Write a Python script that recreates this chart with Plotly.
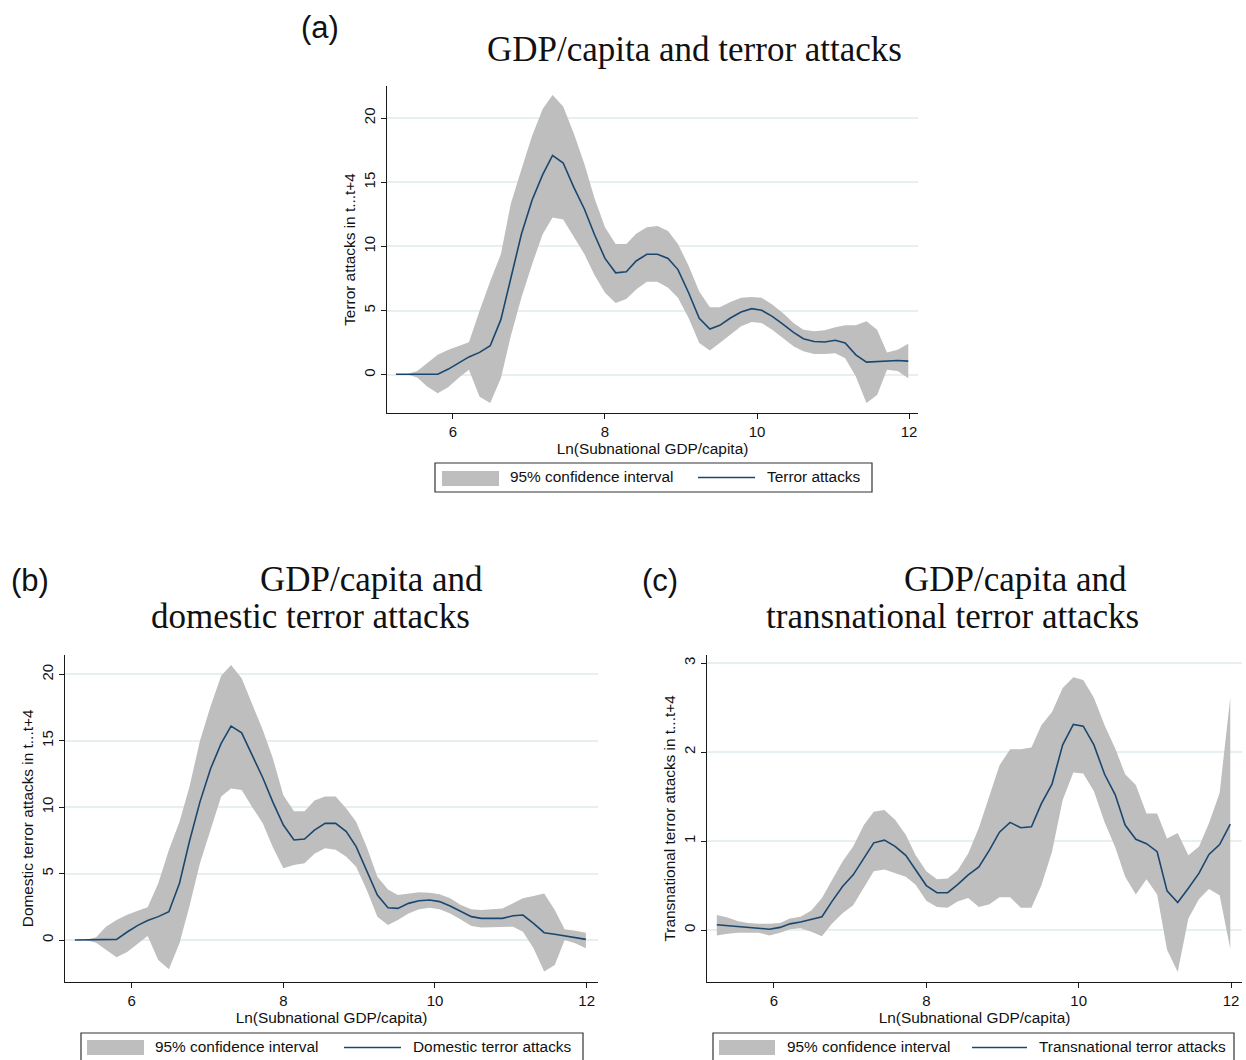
import plotly.graph_objects as go

# ---------------- data ----------------
X = [5.25, 5.39, 5.53, 5.66, 5.80, 5.94, 6.08, 6.21, 6.35, 6.49,
     6.63, 6.76, 6.90, 7.04, 7.18, 7.31, 7.45, 7.59, 7.73, 7.86,
     8.00, 8.14, 8.28, 8.41, 8.55, 8.69, 8.83, 8.96, 9.10, 9.24,
     9.38, 9.51, 9.65, 9.79, 9.93, 10.06, 10.20, 10.34, 10.48, 10.61,
     10.75, 10.89, 11.03, 11.16, 11.30, 11.44, 11.58, 11.71, 11.85, 11.99]

# (a) all terror attacks
A_MEAN = [0.05, 0.05, 0.05, 0.05, 0.05, 0.45, 0.95, 1.4, 1.75, 2.27,
          4.3, 7.56, 10.95, 13.6, 15.6, 17.1, 16.5, 14.6, 12.9, 10.95,
          9.07, 7.95, 8.03, 8.87, 9.39, 9.4, 9.07, 8.2, 6.4, 4.4,
          3.57, 3.86, 4.43, 4.9, 5.16, 5.03, 4.56, 3.96, 3.31, 2.82,
          2.6, 2.56, 2.69, 2.48, 1.56, 0.99, 1.04, 1.07, 1.12, 1.07]
A_HI = [0.05, 0.05, 0.3, 0.9, 1.56, 1.95, 2.25, 2.55, 5.0, 7.3,
        9.4, 13.3, 16.0, 18.6, 20.7, 21.8, 20.9, 18.8, 16.4, 13.8,
        11.5, 10.2, 10.2, 11.0, 11.5, 11.6, 11.2, 10.2, 8.5, 6.5,
        5.27, 5.27, 5.68, 6.0, 6.07, 6.0, 5.48, 4.82, 4.04, 3.52,
        3.39, 3.47, 3.7, 3.86, 3.86, 4.17, 3.52, 1.75, 1.96, 2.43]
A_LO = [0.05, 0.05, -0.2, -0.9, -1.43, -0.95, -0.2, 0.4, -1.7, -2.2,
        -0.26, 3.0, 6.0, 8.6, 10.95, 12.25, 12.1, 10.7, 9.4, 7.8,
        6.4, 5.6, 5.9, 6.65, 7.25, 7.25, 6.78, 6.0, 4.43, 2.48,
        1.9, 2.48, 3.13, 3.78, 4.12, 4.04, 3.52, 2.87, 2.22, 1.83,
        1.62, 1.62, 1.69, 1.3, -0.13, -2.2, -1.56, 0.39, 0.31, -0.26]

# (b) domestic terror attacks
B_MEAN = [0.0, 0.0, 0.02, 0.03, 0.05, 0.6, 1.1, 1.46, 1.76, 2.13,
          4.27, 7.4, 10.4, 12.9, 14.8, 16.1, 15.6, 13.9, 12.2, 10.4,
          8.66, 7.53, 7.6, 8.28, 8.78, 8.78, 8.16, 7.03, 5.27, 3.39,
          2.43, 2.38, 2.76, 2.96, 3.01, 2.89, 2.56, 2.13, 1.76, 1.63,
          1.63, 1.63, 1.83, 1.88, 1.25, 0.55, 0.43, 0.3, 0.2, 0.05]
B_HI = [0.0, 0.0, 0.2, 1.0, 1.5, 1.9, 2.2, 2.46, 4.27, 6.78,
        8.9, 11.5, 15.0, 17.6, 19.9, 20.7, 19.7, 17.8, 15.8, 13.7,
        10.9, 9.7, 9.7, 10.5, 10.8, 10.8, 9.9, 8.9, 7.0, 4.77,
        3.8, 3.39, 3.51, 3.59, 3.56, 3.44, 3.14, 2.63, 2.31, 2.26,
        2.31, 2.38, 2.76, 3.14, 3.31, 3.51, 2.26, 0.8, 0.7, 0.55]
B_LO = [0.0, 0.0, -0.2, -0.75, -1.3, -0.9, -0.3, 0.3, -1.5, -2.2,
        -0.25, 2.5, 5.77, 8.28, 10.8, 11.4, 11.3, 10.0, 8.78, 7.0,
        5.4, 5.65, 5.77, 6.5, 6.9, 6.8, 6.27, 5.52, 3.76, 1.76,
        1.13, 1.5, 2.0, 2.31, 2.43, 2.31, 2.0, 1.55, 1.05, 0.95,
        0.95, 1.0, 1.0, 0.63, -0.63, -2.38, -1.88, 0.0, -0.25, -0.63]

# (c) transnational terror attacks
C_MEAN = [0.06, 0.05, 0.04, 0.03, 0.02, 0.01, 0.03, 0.07, 0.09, 0.12,
          0.15, 0.32, 0.49, 0.62, 0.81, 0.98, 1.01, 0.94, 0.84, 0.67,
          0.5, 0.42, 0.42, 0.51, 0.62, 0.71, 0.9, 1.1, 1.21, 1.15,
          1.16, 1.42, 1.64, 2.08, 2.31, 2.29, 2.08, 1.75, 1.52, 1.18,
          1.02, 0.97, 0.88, 0.44, 0.31, 0.47, 0.64, 0.85, 0.96, 1.19]
C_HI = [0.17, 0.14, 0.1, 0.08, 0.07, 0.07, 0.08, 0.13, 0.15, 0.22,
        0.36, 0.56, 0.77, 0.94, 1.18, 1.33, 1.35, 1.24, 1.07, 0.84,
        0.66, 0.57, 0.58, 0.67, 0.86, 1.15, 1.5, 1.85, 2.03, 2.03,
        2.05, 2.3, 2.45, 2.72, 2.84, 2.81, 2.61, 2.3, 2.04, 1.75,
        1.63, 1.31, 1.31, 1.03, 1.09, 0.84, 0.94, 1.2, 1.54, 2.61]
C_LO = [-0.06, -0.04, -0.03, -0.03, -0.03, -0.06, -0.03, 0.01, 0.02, -0.02,
        -0.07, 0.07, 0.19, 0.28, 0.47, 0.66, 0.68, 0.64, 0.6, 0.51,
        0.33, 0.26, 0.25, 0.32, 0.36, 0.26, 0.29, 0.37, 0.37, 0.25,
        0.25, 0.5, 0.88, 1.46, 1.77, 1.76, 1.56, 1.21, 0.93, 0.6,
        0.4, 0.57, 0.4, -0.22, -0.47, 0.13, 0.35, 0.46, 0.39, -0.21]

X_TICKS = [6, 8, 10, 12]
AB_Y_TICKS = [0, 5, 10, 15, 20]
C_Y_TICKS = [0, 1, 2, 3]

X_TITLE = "Ln(Subnational GDP/capita)"
Y_TITLES = ["Terror attacks in t...t+4",
            "Domestic terror attacks in t...t+4",
            "Transnational terror attacks in t...t+4"]
SERIES_NAMES = ["Terror attacks", "Domestic terror attacks",
                "Transnational terror attacks"]
CI_NAME = "95% confidence interval"

# ---------------- styling ----------------
W, H = 1246, 1060
NAVY = "#1a476f"
BAND = "#bebebe"
GRID = "#e6eff1"
AXIS = "#1a1a1a"
SANS = "Liberation Sans, Arial, sans-serif"
SERIF = "Liberation Serif, Times New Roman, serif"


def fx(p):
    return p / W


def fy(p):
    return 1 - p / H


fig = go.Figure()

panels = [
    dict(x=X, m=A_MEAN, lo=A_LO, hi=A_HI, xa="x", ya="y"),
    dict(x=X, m=B_MEAN, lo=B_LO, hi=B_HI, xa="x2", ya="y2"),
    dict(x=X, m=C_MEAN, lo=C_LO, hi=C_HI, xa="x3", ya="y3"),
]
for i, p in enumerate(panels):
    fig.add_trace(go.Scatter(x=p["x"], y=p["lo"], mode="lines",
                             line=dict(width=0, color=BAND),
                             xaxis=p["xa"], yaxis=p["ya"], showlegend=False,
                             hoverinfo="skip"))
    fig.add_trace(go.Scatter(x=p["x"], y=p["hi"], mode="lines",
                             line=dict(width=0, color=BAND), fill="tonexty",
                             fillcolor=BAND, name=CI_NAME,
                             xaxis=p["xa"], yaxis=p["ya"], showlegend=False))
    fig.add_trace(go.Scatter(x=p["x"], y=p["m"], mode="lines",
                             line=dict(width=1.6, color=NAVY),
                             name=SERIES_NAMES[i],
                             xaxis=p["xa"], yaxis=p["ya"], showlegend=False))

TXT = "#111"
common_x = dict(showline=True, linecolor=AXIS, linewidth=1.2, ticks="outside",
                ticklen=5, tickwidth=1.2, tickcolor=AXIS, showgrid=False,
                zeroline=False, tickvals=X_TICKS,
                tickfont=dict(family=SANS, size=15, color=TXT),
                title=dict(text=X_TITLE, font=dict(family=SANS, size=15.4, color=TXT),
                           standoff=0))
common_y = dict(showline=True, linecolor=AXIS, linewidth=1.2, ticks="outside",
                ticklen=5, tickwidth=1.2, tickcolor=AXIS, showgrid=True,
                gridcolor=GRID, gridwidth=1.5, zeroline=False, tickangle=-90,
                tickfont=dict(family=SANS, size=15, color=TXT))


def ytitle(t):
    return dict(text=t, font=dict(family=SANS, size=15.4, color=TXT), standoff=1)


fig.update_layout(
    width=W, height=H, autosize=False,
    margin=dict(l=0, r=0, t=0, b=0),
    paper_bgcolor="white", plot_bgcolor="white",
    showlegend=False,
    xaxis=dict(common_x, domain=[fx(387), fx(918)], range=[5.132, 12.118], anchor="y"),
    yaxis=dict(common_y, domain=[fy(413), fy(86)], range=[-2.97, 22.5], anchor="x",
               tickvals=AB_Y_TICKS, title=ytitle(Y_TITLES[0])),
    xaxis2=dict(common_x, domain=[fx(65), fx(598)], range=[5.12, 12.15], anchor="y2"),
    yaxis2=dict(common_y, domain=[fy(981.7), fy(655)], range=[-3.14, 21.46], anchor="x2",
                tickvals=AB_Y_TICKS, title=ytitle(Y_TITLES[1])),
    xaxis3=dict(common_x, domain=[fx(707.3), fx(1241.7)], range=[5.125, 12.14], anchor="y3"),
    yaxis3=dict(common_y, domain=[fy(981.7), fy(655)], range=[-0.58, 3.09], anchor="x3",
                tickvals=C_Y_TICKS, title=ytitle(Y_TITLES[2])),
)

# ---------------- titles and panel labels ----------------
anns = []


def ann(text, x, y, size, family, xanchor="center"):
    anns.append(dict(text=text, x=fx(x), y=fy(y), xref="paper", yref="paper",
                     xanchor=xanchor, yanchor="middle", showarrow=False,
                     font=dict(family=family, size=size, color=TXT)))


ann("(a)", 299, 28, 31, SANS, "left")
ann("(b)", 9, 580, 31, SANS, "left")
ann("(c)", 640, 580, 31, SANS, "left")
ann("GDP/capita and terror attacks", 694, 49, 35, SERIF)
ann("GDP/capita and", 371, 579, 35, SERIF)
ann("domestic terror attacks", 310, 616, 35, SERIF)
ann("GDP/capita and", 1015, 579, 35, SERIF)
ann("transnational terror attacks", 952, 616, 35, SERIF)

# ---------------- legends (drawn as boxes with text) ----------------
shapes = []
legends = [
    dict(box=(435, 463, 872, 492), sw=(442, 471, 499, 486), ln=(698, 755),
         t1=508, t2=765, name=SERIES_NAMES[0]),
    dict(box=(81, 1033, 583, 1062), sw=(87, 1040, 144, 1055), ln=(344, 401),
         t1=153, t2=411, name=SERIES_NAMES[1]),
    dict(box=(713, 1033, 1234, 1062), sw=(719, 1040, 775, 1055), ln=(972, 1027),
         t1=785, t2=1037, name=SERIES_NAMES[2]),
]
for lg in legends:
    x0, y0, x1, y1 = lg["box"]
    ymid = (y0 + y1) / 2
    shapes.append(dict(type="rect", xref="paper", yref="paper",
                       x0=fx(x0), x1=fx(x1), y0=fy(y1), y1=fy(y0),
                       line=dict(color="#333", width=1.2), fillcolor="white"))
    sx0, sy0, sx1, sy1 = lg["sw"]
    shapes.append(dict(type="rect", xref="paper", yref="paper",
                       x0=fx(sx0), x1=fx(sx1), y0=fy(sy1), y1=fy(sy0),
                       line=dict(width=0), fillcolor=BAND))
    shapes.append(dict(type="line", xref="paper", yref="paper",
                       x0=fx(lg["ln"][0]), x1=fx(lg["ln"][1]), y0=fy(ymid), y1=fy(ymid),
                       line=dict(color=NAVY, width=1.6)))
    ann(CI_NAME, lg["t1"], ymid - 1, 15.4, SANS, "left")
    ann(lg["name"], lg["t2"], ymid - 1, 15.4, SANS, "left")

fig.update_layout(annotations=anns, shapes=shapes)

fig.write_html(
    "out.html",
    config={"displayModeBar": False},
    post_script="document.body.style.margin='0';document.body.style.padding='0';"
                "document.documentElement.style.overflow='hidden';",
)
